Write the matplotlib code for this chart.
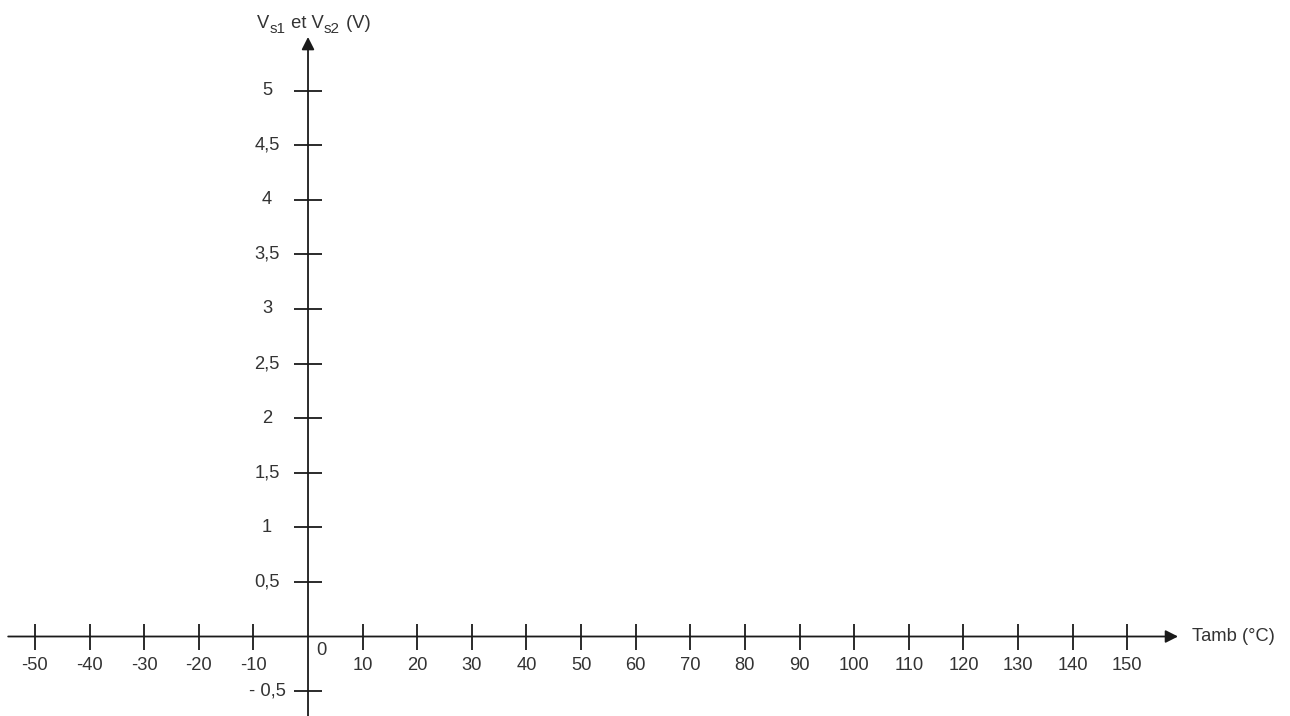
import matplotlib
matplotlib.use("Agg")
import matplotlib.pyplot as plt

plt.rcParams['font.family'] = ['Liberation Sans', 'DejaVu Sans']

# Axis ticks and labels
x_ticks = [-50, -40, -30, -20, -10, 10, 20, 30, 40, 50, 60, 70, 80, 90, 100,
           110, 120, 130, 140, 150]
x_labels = [str(v) for v in x_ticks]
y_ticks = [-0.5, 0.5, 1, 1.5, 2, 2.5, 3, 3.5, 4, 4.5, 5]
y_labels = ["- 0,5", "0,5", "1", "1,5", "2", "2,5", "3", "3,5", "4", "4,5", "5"]
x_title = "Tamb (°C)"
# y title pieces: (text, is_subscript)
y_title_parts = [("V", False), ("s1", True), (" et V", False), ("s2", True), (" (V)", False)]

LINE = "#1a1a1a"
TEXT = "#333333"
FS = 13.2
FS_SUB = 11

fig = plt.figure(figsize=(12.9, 7.16), dpi=100)
ax = fig.add_axes([0, 0, 1, 1])
ax.set_xlim(-56.395, 179.80)
ax.set_ylim(-0.728, 5.829)
ax.axis('off')

# axes lines with arrows
ax.annotate("", xy=(159.3, 0), xytext=(-54.9, 0),
            arrowprops=dict(arrowstyle='-|>,head_length=0.75,head_width=0.38',
                            color=LINE, lw=1.3, shrinkA=0, shrinkB=0))
ax.annotate("", xy=(0, 5.49), xytext=(0, -0.728),
            arrowprops=dict(arrowstyle='-|>,head_length=0.75,head_width=0.38',
                            color=LINE, lw=1.3, shrinkA=0, shrinkB=0))

# ticks
ax.plot(x_ticks, [0] * len(x_ticks), ls='none', marker='|', ms=18.7,
        mew=1.3, color=LINE)
ax.plot([0] * len(y_ticks), y_ticks, ls='none', marker='_', ms=20,
        mew=1.3, color=LINE)

# tick labels
for v, lab in zip(x_ticks, x_labels):
    ax.text(v, -0.261, lab, ha='center', va='center', fontsize=FS, color=TEXT)
ax.text(2.4, -0.124, "0", ha='center', va='center', fontsize=FS, color=TEXT)
for v, lab in zip(y_ticks, y_labels):
    ax.text(-7.5, v, lab, ha='center', va='center', fontsize=FS, color=TEXT)

# axis titles
ax.text(161.9, 0.0, x_title, ha='left', va='center', fontsize=FS, color=TEXT)

renderer = fig.canvas.get_renderer()
dx = 0.0
for txt, sub in y_title_parts:
    t = ax.annotate(txt, xy=(-9.34, 5.572), xytext=(dx, -5 if sub else 0),
                    textcoords='offset pixels', ha='left', va='baseline',
                    fontsize=FS_SUB if sub else FS, color=TEXT)
    bb = t.get_window_extent(renderer)
    dx += bb.width + (1 if sub else 0)

fig.savefig("out.png", dpi=100, facecolor='white')
